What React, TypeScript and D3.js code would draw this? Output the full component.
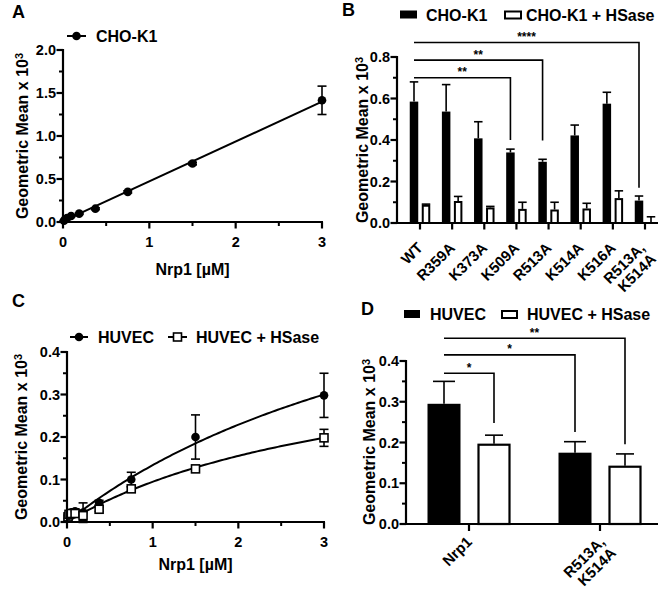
import React from "react";
import * as d3 from "d3";

const FONT = "'Liberation Sans', Arial, Helvetica, sans-serif";

// ---------- Panel A data ----------
const concA = [0.0117, 0.0234, 0.0469, 0.094, 0.1875, 0.375, 0.75, 1.5, 3];
const choK1 = [0.015, 0.03, 0.045, 0.07, 0.097, 0.155, 0.35, 0.68, 1.415];
const choK1Err = [0.004, 0.004, 0.005, 0.006, 0.008, 0.01, 0.012, 0.015, 0.165];
const yTicksA = [0, 0.5, 1, 1.5, 2];
const yMinorA = [0.25, 0.75, 1.25, 1.75];
const xTicksA = [0, 1, 2, 3];
const xMinorA = [0.5, 1.5, 2.5];

// ---------- Panel B data ----------
const mutants = ["WT", "R359A", "K373A", "K509A", "R513A", "K514A", "K516A", "R513A,\nK514A"];
const choB = [0.585, 0.537, 0.408, 0.34, 0.295, 0.422, 0.575, 0.108];
const choBErr = [0.095, 0.13, 0.08, 0.016, 0.012, 0.05, 0.055, 0.022];
const hsB = [0.088, 0.106, 0.075, 0.068, 0.065, 0.07, 0.12, 0.003];
const hsBErr = [0.003, 0.022, 0.005, 0.032, 0.035, 0.025, 0.035, 0.027];
const yTicksB = [0, 0.2, 0.4, 0.6, 0.8];
const yMinorB = [0.1, 0.3, 0.5, 0.7];
const bracketTargetsB = [3, 4, 7];
const bracketLevelsB = [0.7, 0.785, 0.87];
const bracketEndsB = [0.4, 0.398, 0.17];
const bracketLabelsB = ["**", "**", "****"];

// ---------- Panel C data ----------
const concC = [0.0117, 0.0234, 0.0469, 0.094, 0.1875, 0.375, 0.75, 1.5, 3];
const huvec = [0.008, 0.015, 0.022, 0.025, 0.022, 0.045, 0.1, 0.2, 0.298];
const huvecErr = [0.004, 0.005, 0.007, 0.006, 0.023, 0.006, 0.017, 0.052, 0.052];
const huvecHs = [0.012, 0.018, 0.02, 0.02, 0.015, 0.03, 0.078, 0.125, 0.198];
const huvecHsErr = [0.004, 0.004, 0.005, 0.005, 0.012, 0.005, 0.005, 0.004, 0.02];
const fitHuvec = { bmax: 0.793, kd: 4.93 };
const fitHuvecHs = { bmax: 0.437, kd: 3.62 };
const yTicksC = [0, 0.1, 0.2, 0.3, 0.4];
const yMinorC = [0.05, 0.15, 0.25, 0.35];
const xTicksC = [0, 1, 2, 3];
const xMinorC = [0.5, 1.5, 2.5];

// ---------- Panel D data ----------
const groupsD = ["Nrp1", "R513A,\nK514A"];
const huvecD = [0.295, 0.175];
const huvecDErr = [0.055, 0.027];
const hsD = [0.197, 0.143];
const hsDErr = [0.021, 0.029];
const yTicksD = [0, 0.1, 0.2, 0.3, 0.4];
const yMinorD = [0.05, 0.15, 0.25, 0.35];
// brackets: [group, series] from -> to
const bracketFromD = [[0, 0], [0, 0], [0, 0]];
const bracketToD = [[0, 1], [1, 0], [1, 1]];
const bracketLevelsD = [0.37, 0.415, 0.456];
const bracketEndsD = [0.248, 0.226, 0.196];
const bracketLabelsD = ["*", "*", "**"];

const fmt1 = d3.format(".1f");

type Lin = d3.ScaleLinear<number, number>;

function YAxis({ scale, x, major, minor }: { scale: Lin; x: number; major: number[]; minor: number[] }) {
  const [d0, d1] = scale.domain();
  return (
    <g>
      <line x1={x} x2={x} y1={scale(d0) + 1} y2={scale(d1) - 1} stroke="#000" strokeWidth={2.2} />
      {major.map((t) => (
        <g key={"M" + t}>
          <line x1={x - 6.5} x2={x} y1={scale(t)} y2={scale(t)} stroke="#000" strokeWidth={2.2} />
          <text x={x - 7} y={scale(t)} dy="0.36em" textAnchor="end" fontSize={14.5} fontWeight="bold">
            {fmt1(t)}
          </text>
        </g>
      ))}
      {minor.map((t) => (
        <line key={"m" + t} x1={x - 4} x2={x} y1={scale(t)} y2={scale(t)} stroke="#000" strokeWidth={2} />
      ))}
    </g>
  );
}

function XAxisLin({ scale, y, major, minor }: { scale: Lin; y: number; major: number[]; minor: number[] }) {
  const [r0, r1] = scale.range();
  return (
    <g>
      <line x1={r0 - 1} x2={r1 + 1} y1={y} y2={y} stroke="#000" strokeWidth={2.2} />
      {major.map((t) => (
        <g key={"M" + t}>
          <line x1={scale(t)} x2={scale(t)} y1={y} y2={y + 6.5} stroke="#000" strokeWidth={2.2} />
          <text x={scale(t)} y={y + 25} textAnchor="middle" fontSize={14.5} fontWeight="bold">
            {t}
          </text>
        </g>
      ))}
      {minor.map((t) => (
        <line key={"m" + t} x1={scale(t)} x2={scale(t)} y1={y} y2={y + 4} stroke="#000" strokeWidth={2} />
      ))}
    </g>
  );
}

function YTitle({ x, y }: { x: number; y: number }) {
  return (
    <text transform={`translate(${x},${y}) rotate(-90)`} textAnchor="middle" fontSize={16} fontWeight="bold">
      Geometric Mean x 10
      <tspan dy="-0.45em" fontSize={11}>3</tspan>
    </text>
  );
}

function ErrBar({ x, y0, y1, cap }: { x: number; y0: number; y1: number; cap: number }) {
  return (
    <g stroke="#000" strokeWidth={1.6}>
      <line x1={x} x2={x} y1={y0} y2={y1} />
      <line x1={x - cap / 2} x2={x + cap / 2} y1={y1} y2={y1} />
    </g>
  );
}

function PanelA() {
  const x = d3.scaleLinear().domain([0, 3]).range([63, 322]);
  const y = d3.scaleLinear().domain([0, 2]).range([222, 50]);
  const mx = d3.mean(concA)!;
  const my = d3.mean(choK1)!;
  const slope =
    d3.sum(concA.map((c, i) => (c - mx) * (choK1[i] - my))) / d3.sum(concA.map((c) => (c - mx) * (c - mx)));
  const icpt = my - slope * mx;
  const line = d3
    .line<number>()
    .x((d) => x(d))
    .y((d) => y(Math.max(0, icpt + slope * d)));
  return (
    <g>
      <text x={12} y={18} fontSize={18} fontWeight="bold">A</text>
      <path d={line([0, 3])!} fill="none" stroke="#000" strokeWidth={2} />
      {concA.map((c, i) => (
        <g key={i}>
          <ErrBar x={x(c)} y0={y(choK1[i] - choK1Err[i])} y1={y(choK1[i] + choK1Err[i])} cap={9} />
          <line x1={x(c) - 4.5} x2={x(c) + 4.5} y1={y(choK1[i] - choK1Err[i])} y2={y(choK1[i] - choK1Err[i])} stroke="#000" strokeWidth={1.6} />
          <circle cx={x(c)} cy={y(choK1[i])} r={4.3} fill="#000" />
        </g>
      ))}
      <YAxis scale={y} x={63} major={yTicksA} minor={yMinorA} />
      <XAxisLin scale={x} y={222} major={xTicksA} minor={xMinorA} />
      <text x={(63 + 322) / 2} y={275} textAnchor="middle" fontSize={16} fontWeight="bold">Nrp1 [µM]</text>
      <YTitle x={28} y={136} />
      <line x1={67} x2={86} y1={36} y2={36} stroke="#000" strokeWidth={2} />
      <circle cx={76.5} cy={36} r={4.3} fill="#000" />
      <text x={96} y={41.5} fontSize={16} fontWeight="bold">CHO-K1</text>
    </g>
  );
}

function PanelB() {
  const y = d3.scaleLinear().domain([0, 0.8]).range([223, 57]);
  const xc = d3.scalePoint<string>().domain(mutants).range([420, 645]);
  const off = 6;
  const bw = 8.5;
  const y0 = y(0);
  const bx = (i: number) => xc(mutants[i])! - off;
  return (
    <g>
      <text x={342} y={16} fontSize={18} fontWeight="bold">B</text>
      {mutants.map((m, i) => {
        const c = xc(m)!;
        return (
          <g key={m}>
            <ErrBar x={c - off} y0={y(choB[i])} y1={y(choB[i] + choBErr[i])} cap={bw} />
            <rect x={c - off - bw / 2} y={y(choB[i])} width={bw} height={y0 - y(choB[i])} fill="#000" />
            <ErrBar x={c + off} y0={y(hsB[i])} y1={y(hsB[i] + hsBErr[i])} cap={bw} />
            <rect x={c + off - bw / 2 + 1} y={y(hsB[i]) + 1} width={bw - 2} height={Math.max(0, y0 - y(hsB[i]) - 1)} fill="#fff" stroke="#000" strokeWidth={2} />
          </g>
        );
      })}
      <YAxis scale={y} x={397} major={yTicksB} minor={yMinorB} />
      <line x1={396} x2={658} y1={y0} y2={y0} stroke="#000" strokeWidth={2.2} />
      {mutants.map((m) => {
        const c = xc(m)!;
        const lines = m.split("\n");
        return (
          <g key={"t" + m}>
            <line x1={c} x2={c} y1={y0} y2={y0 + 6.5} stroke="#000" strokeWidth={2.2} />
            <text transform={`translate(${c + (lines.length > 1 ? -3 : 0)},${y0 + 22}) rotate(-45)`} textAnchor="end" fontSize={15} fontWeight="bold">
              {lines.map((l, k) => (
                <tspan key={k} x={0} dy={k === 0 ? "0.36em" : "1.05em"}>{l}</tspan>
              ))}
            </text>
          </g>
        );
      })}
      {bracketTargetsB.map((t, i) => {
        const xs = bx(0);
        const xe = bx(t);
        const yl = y(bracketLevelsB[i]);
        return (
          <g key={"br" + i}>
            <path d={`M${xs},${yl}H${xe}V${y(bracketEndsB[i])}`} fill="none" stroke="#000" strokeWidth={1.6} />
            <text x={(xs + xe) / 2} y={yl - 1.5} textAnchor="middle" fontSize={12} fontWeight="bold">{bracketLabelsB[i]}</text>
          </g>
        );
      })}
      <YTitle x={368} y={140} />
      <rect x={400} y={10.5} width={17} height={8} fill="#000" />
      <text x={426} y={20.5} fontSize={16} fontWeight="bold">CHO-K1</text>
      <rect x={505} y={11.5} width={16} height={7} fill="#fff" stroke="#000" strokeWidth={2} />
      <text x={526} y={20.5} fontSize={16} fontWeight="bold">CHO-K1 + HSase</text>
    </g>
  );
}

function PanelC() {
  const x = d3.scaleLinear().domain([0, 3]).range([67, 324]);
  const y = d3.scaleLinear().domain([0, 0.4]).range([522, 352]);
  const grid = d3.range(0, 3.0001, 0.03);
  const mk = (f: { bmax: number; kd: number }) =>
    d3
      .line<number>()
      .x((d) => x(d))
      .y((d) => y((f.bmax * d) / (f.kd + d)))(grid)!;
  return (
    <g>
      <text x={12} y={307} fontSize={18} fontWeight="bold">C</text>
      <path d={mk(fitHuvec)} fill="none" stroke="#000" strokeWidth={2} />
      <path d={mk(fitHuvecHs)} fill="none" stroke="#000" strokeWidth={2} />
      {concC.map((c, i) => (
        <g key={"h" + i}>
          <line x1={x(c)} x2={x(c)} y1={y(huvec[i] - huvecErr[i])} y2={y(huvec[i] + huvecErr[i])} stroke="#000" strokeWidth={1.6} />
          <line x1={x(c) - 4.5} x2={x(c) + 4.5} y1={y(huvec[i] + huvecErr[i])} y2={y(huvec[i] + huvecErr[i])} stroke="#000" strokeWidth={1.6} />
          <line x1={x(c) - 4.5} x2={x(c) + 4.5} y1={y(huvec[i] - huvecErr[i])} y2={y(huvec[i] - huvecErr[i])} stroke="#000" strokeWidth={1.6} />
          <line x1={x(c)} x2={x(c)} y1={y(huvecHs[i] - huvecHsErr[i])} y2={y(huvecHs[i] + huvecHsErr[i])} stroke="#000" strokeWidth={1.6} />
          <line x1={x(c) - 4.5} x2={x(c) + 4.5} y1={y(huvecHs[i] + huvecHsErr[i])} y2={y(huvecHs[i] + huvecHsErr[i])} stroke="#000" strokeWidth={1.6} />
          <line x1={x(c) - 4.5} x2={x(c) + 4.5} y1={y(huvecHs[i] - huvecHsErr[i])} y2={y(huvecHs[i] - huvecHsErr[i])} stroke="#000" strokeWidth={1.6} />
        </g>
      ))}
      {concC.map((c, i) => (
        <g key={"m" + i}>
          <circle cx={x(c)} cy={y(huvec[i])} r={4.3} fill="#000" />
          <rect x={x(c) - 4} y={y(huvecHs[i]) - 4} width={8} height={8} fill="#fff" stroke="#000" strokeWidth={1.6} />
        </g>
      ))}
      <YAxis scale={y} x={67} major={yTicksC} minor={yMinorC} />
      <XAxisLin scale={x} y={522} major={xTicksC} minor={xMinorC} />
      <text x={(67 + 324) / 2} y={570} textAnchor="middle" fontSize={16} fontWeight="bold">Nrp1 [µM]</text>
      <YTitle x={27} y={437} />
      <line x1={70} x2={88} y1={337} y2={337} stroke="#000" strokeWidth={2} />
      <circle cx={79} cy={337} r={4.3} fill="#000" />
      <text x={98} y={342.5} fontSize={16} fontWeight="bold">HUVEC</text>
      <line x1={168} x2={187} y1={337} y2={337} stroke="#000" strokeWidth={2} />
      <rect x={173.5} y={333} width={8} height={8} fill="#fff" stroke="#000" strokeWidth={1.6} />
      <text x={196} y={342.5} fontSize={16} fontWeight="bold">HUVEC + HSase</text>
    </g>
  );
}

function PanelD() {
  const y = d3.scaleLinear().domain([0, 0.4]).range([524, 361]);
  const xc = d3.scalePoint<string>().domain(groupsD).range([469, 600]);
  const off = 25;
  const bw = 33;
  const y0 = y(0);
  const bxy = (g: number, s: number) => xc(groupsD[g])! + (s === 0 ? -off : off);
  return (
    <g>
      <text x={361} y={315} fontSize={18} fontWeight="bold">D</text>
      {groupsD.map((g, i) => {
        const c = xc(g)!;
        return (
          <g key={g}>
            <ErrBar x={c - off} y0={y(huvecD[i])} y1={y(huvecD[i] + huvecDErr[i])} cap={22} />
            <rect x={c - off - bw / 2} y={y(huvecD[i])} width={bw} height={y0 - y(huvecD[i])} fill="#000" />
            <ErrBar x={c + off} y0={y(hsD[i])} y1={y(hsD[i] + hsDErr[i])} cap={18} />
            <rect x={c + off - bw / 2 + 1} y={y(hsD[i]) + 1} width={bw - 2} height={y0 - y(hsD[i]) - 1} fill="#fff" stroke="#000" strokeWidth={2.2} />
          </g>
        );
      })}
      <YAxis scale={y} x={406} major={yTicksD} minor={yMinorD} />
      <line x1={405} x2={658} y1={y0} y2={y0} stroke="#000" strokeWidth={2.2} />
      {groupsD.map((g) => {
        const c = xc(g)!;
        const lines = g.split("\n");
        return (
          <g key={"t" + g}>
            <line x1={c} x2={c} y1={y0} y2={y0 + 7} stroke="#000" strokeWidth={2.2} />
            <text transform={`translate(${c + (lines.length > 1 ? 2 : 0)},${y0 + 15}) rotate(-45)`} textAnchor="end" fontSize={15} fontWeight="bold">
              {lines.map((l, k) => (
                <tspan key={k} x={0} dy={k === 0 ? "0.36em" : "1.05em"}>{l}</tspan>
              ))}
            </text>
          </g>
        );
      })}
      {bracketLevelsD.map((lv, i) => {
        const xs = bxy(bracketFromD[i][0], bracketFromD[i][1]);
        const xe = bxy(bracketToD[i][0], bracketToD[i][1]);
        const yl = y(lv);
        return (
          <g key={"br" + i}>
            <path d={`M${xs},${yl}H${xe}V${y(bracketEndsD[i])}`} fill="none" stroke="#000" strokeWidth={1.6} />
            <text x={(xs + xe) / 2} y={yl - 1.5} textAnchor="middle" fontSize={12} fontWeight="bold">{bracketLabelsD[i]}</text>
          </g>
        );
      })}
      <YTitle x={375} y={442} />
      <rect x={404} y={310} width={16} height={8} fill="#000" />
      <text x={430} y={319.5} fontSize={16} fontWeight="bold">HUVEC</text>
      <rect x={502} y={311} width={15} height={7} fill="#fff" stroke="#000" strokeWidth={2} />
      <text x={527} y={319.5} fontSize={16} fontWeight="bold">HUVEC + HSase</text>
    </g>
  );
}

export default function App() {
  return (
    <svg
      width={664}
      height={597}
      viewBox="0 0 664 597"
      style={{ position: "absolute", left: 0, top: 0, background: "#fff" }}
      fontFamily={FONT}
      fill="#000"
    >
      <rect width={664} height={597} fill="#fff" />
      <PanelA />
      <PanelB />
      <PanelC />
      <PanelD />
    </svg>
  );
}
